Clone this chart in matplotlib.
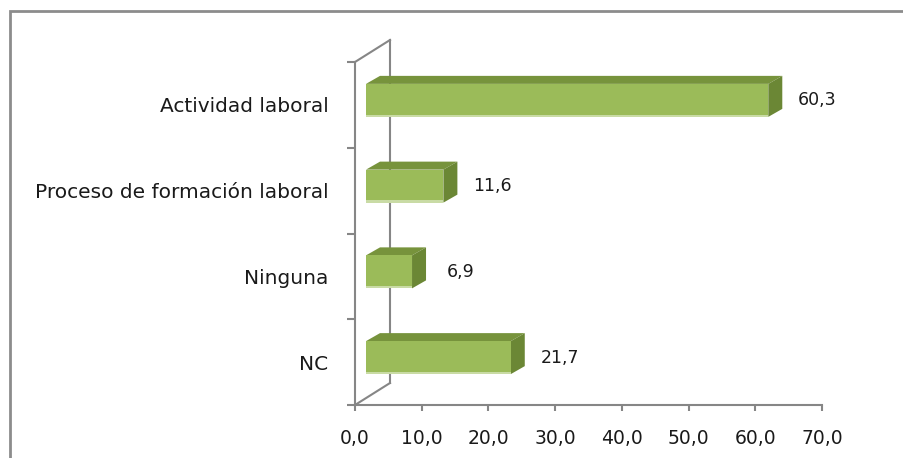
import matplotlib
matplotlib.use("Agg")
import matplotlib.pyplot as plt
from matplotlib.patches import Polygon, Rectangle
from matplotlib.ticker import FixedLocator

plt.rcParams["font.family"] = ["DejaVu Sans"]

categories = ["Actividad laboral", "Proceso de formación laboral", "Ninguna", "NC"]
values = [60.3, 11.6, 6.9, 21.7]
value_labels = ["60,3", "11,6", "6,9", "21,7"]
xticks = [0, 10, 20, 30, 40, 50, 60, 70]
xtick_labels = ["0,0", "10,0", "20,0", "30,0", "40,0", "50,0", "60,0", "70,0"]

W, H = 904, 458
FRONT = "#9BBB59"
TOP = "#77933C"
SIDE = "#6B8735"
LIGHT = "#C9DBA5"
GRID = "#868686"

fig = plt.figure(figsize=(W / 100, H / 100), dpi=100)
ax = fig.add_axes([355 / W, 1 - 405 / H, (822 - 355) / W, (405 - 62) / H])
ax.set_xlim(0, 70)
ax.set_ylim(len(categories) - 0.5, -0.5)

# pixel -> data scale for the fake 3d depth
sx = (822 - 355) / 70.0
sy = (405 - 62) / len(categories)
depth_x, depth_y = 35 / sx, 22 / sy
fx, fy = 11 / sx, 4.5 / sy      # bar front face offset
bx, by = 25 / sx, 12.5 / sy     # bar back face offset
half = 33 / sy / 2

for i, v in enumerate(values):
    top_f = i - fy - half
    bot_f = i - fy + half
    top_b = i - by - half
    bot_b = i - by + half
    ax.add_patch(Polygon([(fx, top_f), (v + fx, top_f), (v + bx, top_b), (bx, top_b)],
                         closed=True, fc=TOP, ec="none", clip_on=False, zorder=3))
    ax.add_patch(Polygon([(v + fx, top_f), (v + fx, bot_f), (v + bx, bot_b), (v + bx, top_b)],
                         closed=True, fc=SIDE, ec="none", clip_on=False, zorder=3))
    ax.add_patch(Rectangle((fx, top_f), v, 2 * half, fc=FRONT, ec="none",
                           clip_on=False, zorder=4))
    ax.add_patch(Rectangle((fx, bot_f - 2.2 / sy), v, 2.2 / sy, fc=LIGHT, ec="none",
                           clip_on=False, zorder=4))
    ax.annotate(value_labels[i], xy=(v + bx, i - fy), xytext=(35, 0),
                textcoords="offset pixels", ha="center", va="center",
                fontsize=12.5, color="#1a1a1a", annotation_clip=False)

# back wall and side edges
y0, y1 = -0.5, len(categories) - 0.5
ax.plot([depth_x, depth_x], [y0 - depth_y, y1 - depth_y], color=GRID, lw=1.5,
        clip_on=False, zorder=2)
ax.plot([0, depth_x], [y0, y0 - depth_y], color=GRID, lw=1.5, clip_on=False, zorder=2)
ax.plot([0, depth_x], [y1, y1 - depth_y], color=GRID, lw=1.5, clip_on=False, zorder=2)

for side in ["top", "right"]:
    ax.spines[side].set_visible(False)
for side in ["left", "bottom"]:
    ax.spines[side].set_color(GRID)
    ax.spines[side].set_linewidth(1.5)

ax.set_xticks(xticks)
ax.set_xticklabels(xtick_labels, fontsize=13.5, color="#1a1a1a")
ax.tick_params(axis="x", length=4, width=1.5, color=GRID, pad=13)

ax.set_yticks(range(len(categories)))
ax.set_yticklabels(categories, fontsize=14.5, color="#1a1a1a")
ax.tick_params(axis="y", which="major", length=0, pad=19)
ax.yaxis.set_minor_locator(FixedLocator([k - 0.5 for k in range(len(categories) + 1)]))
ax.tick_params(axis="y", which="minor", length=6, width=1.5, color=GRID)

# outer chart border (right and bottom edges fall outside the picture)
fig.add_artist(Rectangle((10 / W, -0.1), 2.0, (H - 11) / H + 0.1, transform=fig.transFigure,
                         fill=False, ec="#8C8C8C", lw=2.0))

fig.savefig("out.png", dpi=100)
